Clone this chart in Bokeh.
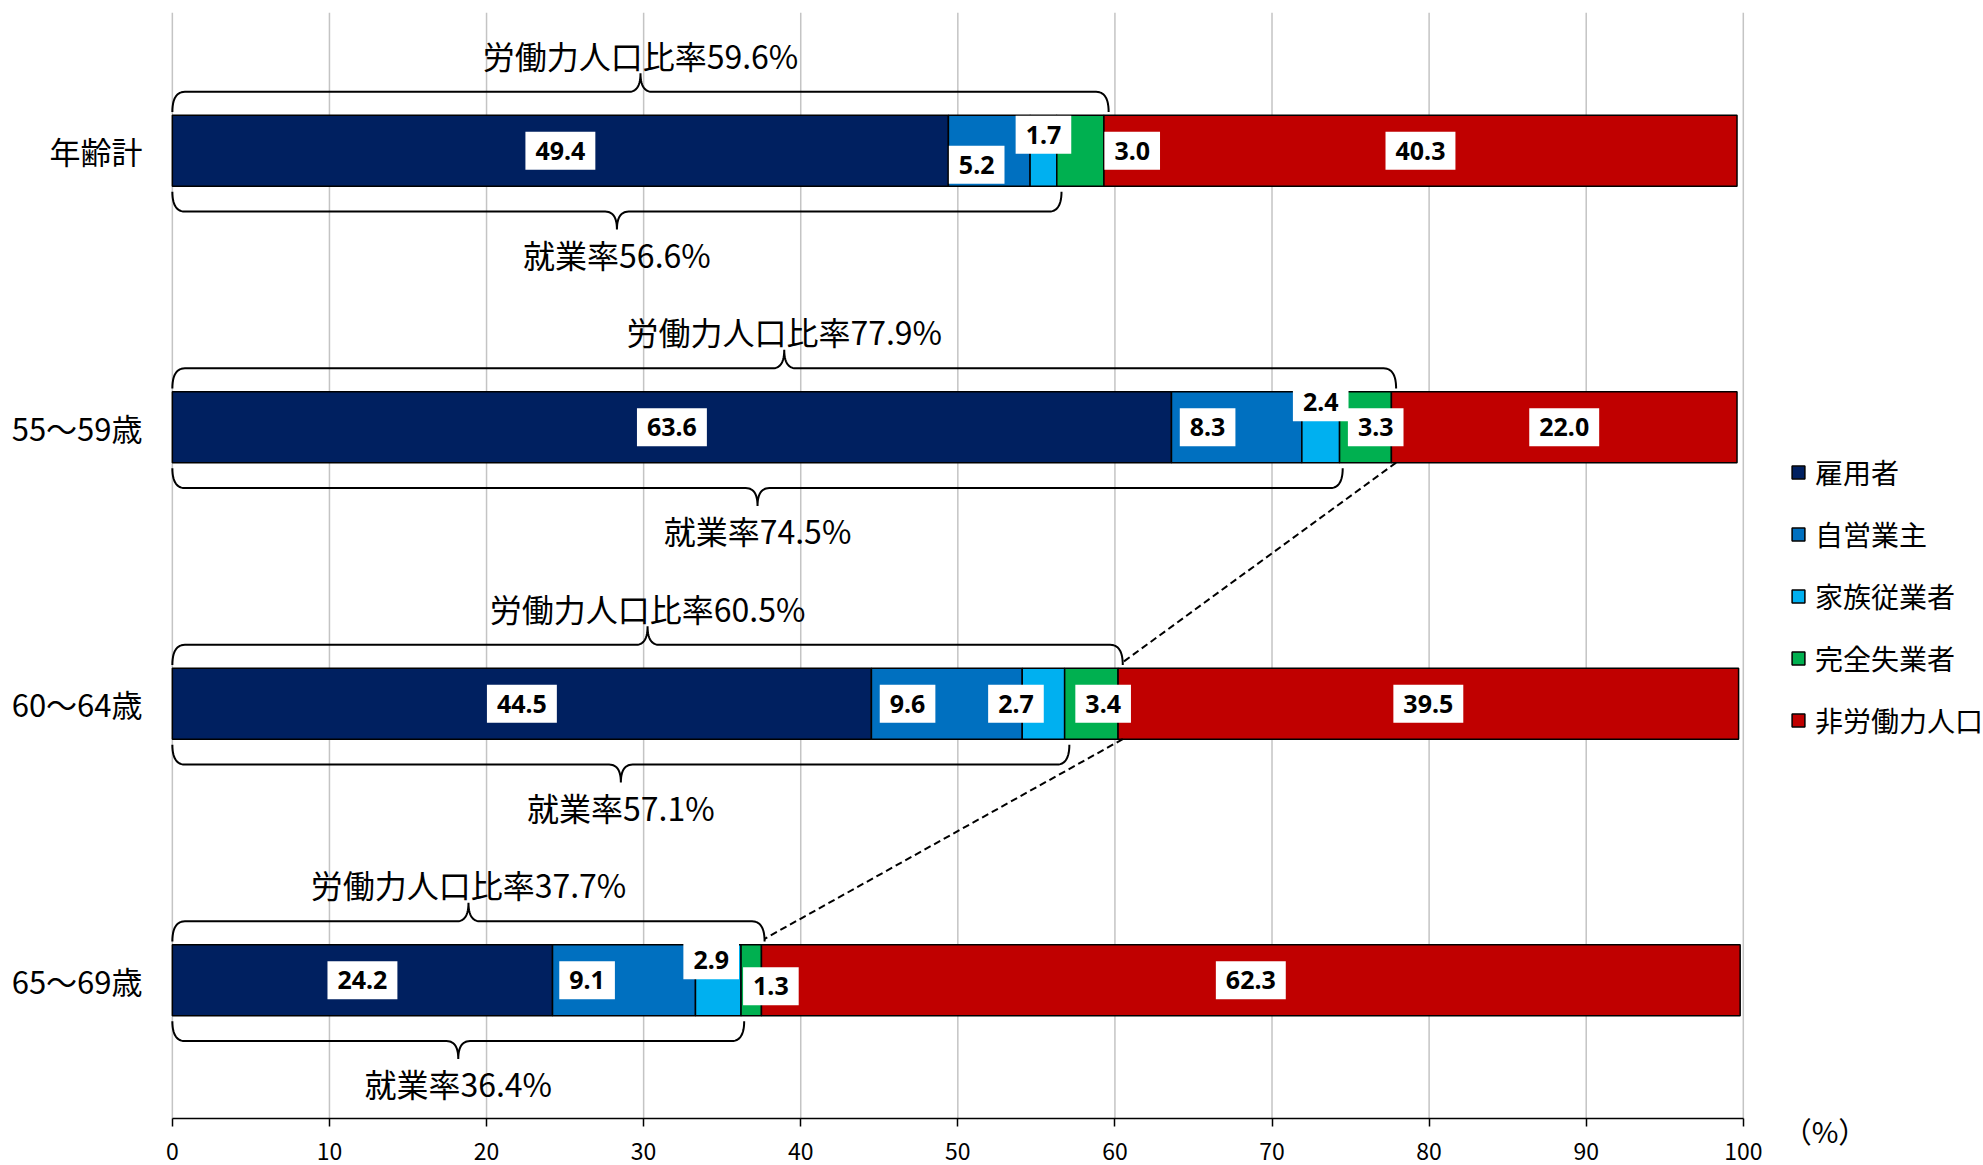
import numpy as np
from bokeh.plotting import figure
from bokeh.models import ColumnDataSource, FixedTicker, Legend, LegendItem, Label
from bokeh.core.properties import value
from bokeh.embed import file_html
from bokeh.resources import INLINE

# ---------------- data ----------------
categories = ["年齢計", "55～59歳", "60～64歳", "65～69歳"]
series_names = ["雇用者", "自営業主", "家族従業者", "完全失業者", "非労働力人口"]
employees = [49.4, 63.6, 44.5, 24.2]
self_employed = [5.2, 8.3, 9.6, 9.1]
family_workers = [1.7, 2.4, 2.7, 2.9]
unemployed = [3.0, 3.3, 3.4, 1.3]
not_in_labour = [40.3, 22.0, 39.5, 62.3]
labour_rate = [59.6, 77.9, 60.5, 37.7]
employment_rate = [56.6, 74.5, 57.1, 36.4]
x_ticks = [0, 10, 20, 30, 40, 50, 60, 70, 80, 90, 100]
unit_label = "（%）"

# ---------------- style ----------------
colors = ["#002060", "#0070C0", "#00B0F0", "#00B050", "#C00000"]
JP = "Noto Sans CJK JP"
BAR_H = 0.256
PX_Y = 276.5  # pixels per category unit (vertical)
Y_LO = -0.5
Y_BOTTOM = Y_LO - 47 / PX_Y  # extra room below the axis for tick labels

# label nudges (dx in % units, dy in px, positive = down), keyed by (row, series)
nudges = {
    (0, 1): (-0.8, 14), (0, 2): (0.0, -16), (0, 3): (3.3, 0),
    (1, 1): (-1.85, 0), (1, 2): (0.0, -25), (1, 3): (0.65, 0),
    (2, 1): (-2.5, 0), (2, 2): (-1.75, 0), (2, 3): (0.75, 0),
    (3, 1): (-2.35, 0), (3, 2): (-0.45, -20), (3, 3): (1.25, 6),
}

series_vals = [employees, self_employed, family_workers, unemployed, not_in_labour]
n = len(categories)
ypos = [n - 1 - i for i in range(n)]

p = figure(width=1983, height=1165, x_range=(-0.5, 115.29), y_range=(Y_BOTTOM, 3.5),
           output_backend="svg", toolbar_location=None,
           min_border_left=164, min_border_right=0, min_border_top=12, min_border_bottom=0)
p.outline_line_color = None
p.background_fill_color = "white"
p.border_fill_color = "white"

# grid (drawn as glyphs so that it stops at the axis line)
p.xgrid.grid_line_color = None
p.ygrid.grid_line_color = None
p.segment(x0=x_ticks, y0=[Y_LO] * len(x_ticks), x1=x_ticks, y1=[3.5] * len(x_ticks),
          line_color="#C4C4C4", line_width=1.5)

# x axis (fixed inside the frame at the bottom of the category band)
p.xaxis.fixed_location = Y_LO
p.xaxis.ticker = FixedTicker(ticks=x_ticks)
p.xaxis.bounds = (0, 100)
p.xaxis.axis_line_color = "black"
p.xaxis.axis_line_width = 1.5
p.xaxis.major_tick_line_color = "black"
p.xaxis.major_tick_line_width = 1.5
p.xaxis.major_tick_out = 8
p.xaxis.major_tick_in = 0
p.xaxis.minor_tick_line_color = None
p.xaxis.major_label_text_font_size = "23px"
p.xaxis.major_label_text_font = JP
p.xaxis.major_label_text_color = "black"
p.xaxis.major_label_standoff = 16

# y axis
p.yaxis.ticker = FixedTicker(ticks=ypos)
p.yaxis.major_label_overrides = {y: c for y, c in zip(ypos, categories)}
p.yaxis.axis_line_color = None
p.yaxis.major_tick_line_color = None
p.yaxis.minor_tick_line_color = None
p.yaxis.major_tick_out = 0
p.yaxis.major_label_text_font_size = "31px"
p.yaxis.major_label_text_font = JP
p.yaxis.major_label_text_color = "black"
p.yaxis.major_label_standoff = 22

# bars
cum = np.zeros(n)
renderers = []
lab_x, lab_y, lab_t = [], [], []
for s, (name, vals, col) in enumerate(zip(series_names, series_vals, colors)):
    vals = np.array(vals, dtype=float)
    left = cum.copy()
    right = cum + vals
    src = ColumnDataSource(dict(y=ypos, left=left, right=right))
    r = p.hbar(y="y", left="left", right="right", height=BAR_H, fill_color=col,
               line_color="black", line_width=1.5, source=src)
    renderers.append(r)
    for i in range(n):
        dx, dy = nudges.get((i, s), (0.0, 0))
        lab_x.append((left[i] + right[i]) / 2 + dx)
        lab_y.append(ypos[i] - dy / PX_Y)
        lab_t.append(f"{vals[i]:.1f}")
    cum = right

p.text(x=lab_x, y=lab_y, text=lab_t, text_align="center", text_baseline="middle",
       text_font=value("Noto Sans"), text_font_style="bold", text_font_size="25px",
       text_color="black", background_fill_color="white", padding=10)

# braces
def quad(p0, c, p1, k=14):
    t = np.linspace(0, 1, k)
    x = (1 - t) ** 2 * p0[0] + 2 * (1 - t) * t * c[0] + t ** 2 * p1[0]
    y = (1 - t) ** 2 * p0[1] + 2 * (1 - t) * t * c[1] + t ** 2 * p1[1]
    return list(x), list(y)

def brace(x1, yc, d, base, line, tip, r=0.8, rt=0.75):
    xm = x1 / 2
    xs, ys = [], []
    for seg in [quad((0, yc + d * base), (0, yc + d * line), (r, yc + d * line)),
                quad((xm - rt, yc + d * line), (xm, yc + d * line), (xm, yc + d * tip)),
                quad((xm, yc + d * tip), (xm, yc + d * line), (xm + rt, yc + d * line)),
                quad((x1 - r, yc + d * line), (x1, yc + d * line), (x1, yc + d * base))]:
        xs += seg[0]
        ys += seg[1]
    return xs, ys

bxs, bys = [], []
tx, ty, tt = [], [], []
for i in range(n):
    yc = ypos[i]
    xs, ys = brace(labour_rate[i], yc, +1, 0.14, 0.213, 0.28)
    bxs.append(xs); bys.append(ys)
    xs, ys = brace(employment_rate[i], yc, -1, 0.148, 0.22, 0.285)
    bxs.append(xs); bys.append(ys)
    tx += [labour_rate[i] / 2, employment_rate[i] / 2]
    ty += [yc + 0.347, yc - 0.372]
    tt += [f"労働力人口比率{labour_rate[i]:.1f}%", f"就業率{employment_rate[i]:.1f}%"]

p.multi_line(xs=bxs, ys=bys, line_color="black", line_width=2)
p.text(x=tx, y=ty, text=tt, text_align="center", text_baseline="middle",
       text_font=value(JP), text_font_size="32px", text_color="black")

# dashed connectors (labour force rate of one age group to the next)
x0s, y0s, x1s, y1s = [], [], [], []
for i in range(1, n - 1):
    x0s.append(labour_rate[i]); y0s.append(ypos[i] - BAR_H / 2)
    x1s.append(labour_rate[i + 1]); y1s.append(ypos[i + 1] + 0.15)
p.segment(x0=x0s, y0=y0s, x1=x1s, y1=y1s, line_color="black", line_width=2, line_dash="7 4")

# legend
legend = Legend(items=[LegendItem(label=nm, renderers=[r]) for nm, r in zip(series_names, renderers)],
                location=(1626, 378 + 47), orientation="vertical", padding=0, margin=0,
                border_line_color=None, background_fill_alpha=0,
                glyph_width=16, glyph_height=16, label_height=30, spacing=22,
                label_standoff=9, label_text_font_size="28px", label_text_font=JP,
                label_text_color="black")
p.add_layout(legend)

# unit label
p.add_layout(Label(x=105.2, y=Y_LO - 11 / PX_Y, text=unit_label, text_align="center",
                   text_baseline="middle", text_font_size="29px", text_font=JP,
                   text_color="black"))

open("out.html", "w").write(file_html(p, INLINE))
